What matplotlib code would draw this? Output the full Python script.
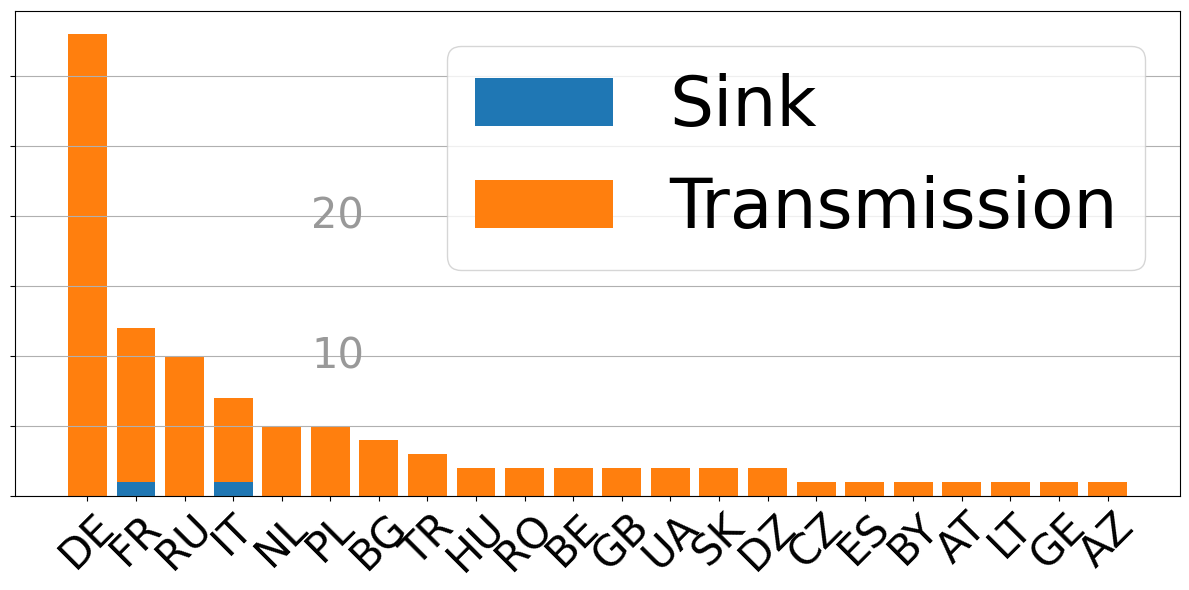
import matplotlib
matplotlib.use('Agg')
import matplotlib.pyplot as plt
import numpy as np

# countries sorted by total count
countries = ['DE', 'FR', 'RU', 'IT', 'NL', 'PL', 'BG', 'TR', 'HU', 'RO', 'BE',
             'GB', 'UA', 'SK', 'DZ', 'CZ', 'ES', 'BY', 'AT', 'LT', 'GE', 'AZ']
sink = [0, 1, 0, 1, 0, 0, 0, 0, 0, 0, 0, 0, 0, 0, 0, 0, 0, 0, 0, 0, 0, 0]
transmission = [33, 11, 10, 6, 5, 5, 4, 3, 2, 2, 2, 2, 2, 2, 2, 1, 1, 1, 1, 1, 1, 1]
yticks = [0, 5, 10, 15, 20, 25, 30]
ylabels_shown = [10, 20]

fig = plt.figure(figsize=(11.89, 5.9), dpi=100)
ax = fig.add_axes([0.0126, 0.1593, 0.9798, 0.8221])

x = np.arange(len(countries))
ax.bar(x, sink, label='Sink', color='#1f77b4')
ax.bar(x, transmission, bottom=sink, label='Transmission', color='#ff7f0e')

ax.set_xticks(x)
ax.set_xticklabels(countries, rotation=45, fontsize=30)
ax.set_yticks(yticks)
ax.set_yticklabels([])
ax.yaxis.grid(True)

# the y values are written inside the plot in grey
for v in ylabels_shown:
    ax.text(0.277, v, str(v), transform=ax.get_yaxis_transform(),
            ha='center', va='center', fontsize=30, color='0.6')

ax.legend(loc='upper right', fontsize=50)

fig.savefig('out.png', dpi=100)
